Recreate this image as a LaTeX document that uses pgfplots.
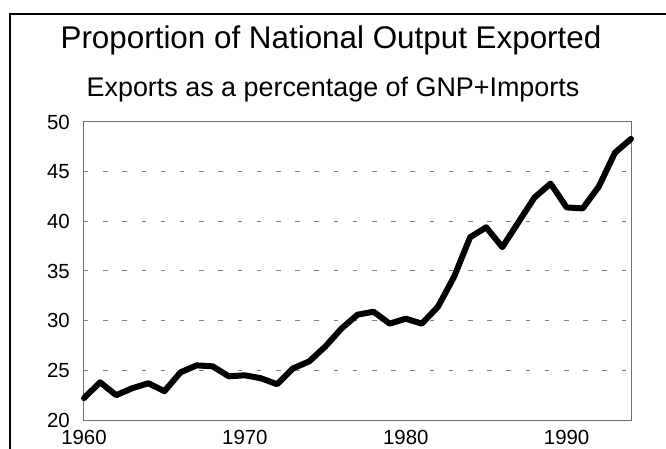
\documentclass[border=0pt]{standalone}
\usepackage{pgfplots}
\pgfplotsset{compat=1.18}
\usepackage{fontspec}
\setmainfont{Liberation Sans}
\definecolor{axgray}{HTML}{6E6E6E}
\definecolor{gridgray}{HTML}{808080}
\begin{document}
\begin{tikzpicture}
\useasboundingbox (-84bp,-29bp) rectangle (582bp,420bp);
\draw[line width=2bp,black] (-74bp,-40bp) -- (-74bp,406bp) -- (600bp,406bp);
\node[anchor=base,font=\fontsize{31.5}{36}\selectfont] at (247bp,371bp) {Proportion of National Output Exported};
\node[anchor=base,font=\fontsize{27}{31}\selectfont] at (249bp,323bp) {Exports as a percentage of GNP+Imports};
\begin{axis}[
  at={(0bp,0bp)}, anchor=south west,
  scale only axis, width=547bp, height=298bp,
  xmin=1960, xmax=1994, ymin=20, ymax=50,
  xtick={1960,1970,1980,1990}, ytick={20,25,30,35,40,45,50},
  major tick length=0pt,
  tick style={draw=none},
  axis line style={draw=axgray, line width=1bp},
  ymajorgrids,
  grid style={draw=gridgray, line width=1bp, dash pattern=on 4.5bp off 14.7bp},
  /pgf/number format/assume math mode=true,
  xticklabel style={/pgf/number format/1000 sep=, font=\fontsize{20.5}{24}\selectfont, inner sep=0pt, anchor=north, yshift=-10.5bp},
  yticklabel style={font=\fontsize{20.5}{24}\selectfont, inner sep=0pt, anchor=east, xshift=-14bp},
  clip=false,
]
\addplot[black, line width=6bp, line join=round, line cap=round] coordinates {
(1960,22.2) (1961,23.8) (1962,22.5) (1963,23.2) (1964,23.7) (1965,22.9)
(1966,24.8) (1967,25.5) (1968,25.4) (1969,24.4) (1970,24.5) (1971,24.2)
(1972,23.6) (1973,25.2) (1974,25.9) (1975,27.4) (1976,29.2) (1977,30.6)
(1978,30.9) (1979,29.7) (1980,30.2) (1981,29.7) (1982,31.4) (1983,34.4)
(1984,38.4) (1985,39.4) (1986,37.4) (1987,39.9) (1988,42.4) (1989,43.8)
(1990,41.4) (1991,41.3) (1992,43.5) (1993,46.9) (1994,48.3)
};
\end{axis}
\end{tikzpicture}
\end{document}
